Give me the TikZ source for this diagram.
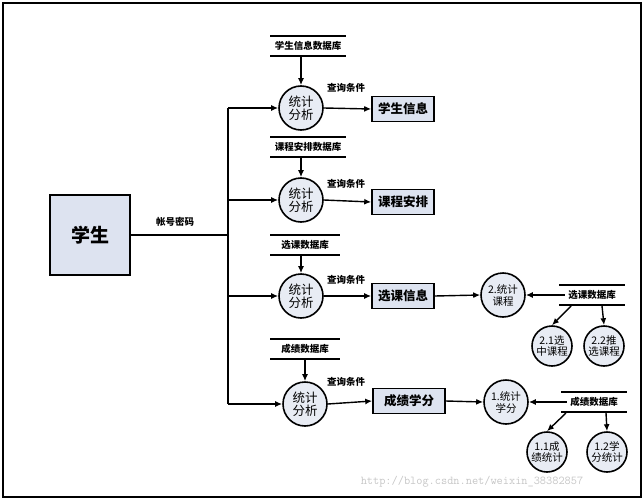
\documentclass[tikz,border=0pt]{standalone}
\usepackage{fontspec}
\setmainfont{Noto Sans CJK SC}
\usetikzlibrary{arrows.meta}
\definecolor{boxfill}{RGB}{221,227,240}
\definecolor{procfill}{RGB}{232,236,244}
\tikzset{
	proc/.style={circle, draw, line width=1.6pt, fill=procfill, minimum size=44pt, inner sep=0pt, align=center, font=\fontsize{12.5}{13.5}\selectfont},
	sub/.style={proc, minimum size=40pt, font=\fontsize{10.5}{11.5}\selectfont},
	outbox/.style={draw, line width=1.6pt, fill=boxfill, minimum width=62pt, minimum height=25pt, font=\bfseries\fontsize{12.5}{13}\selectfont},
	store/.style={font=\bfseries\fontsize{9.5}{10}\selectfont},
	lbl/.style={font=\bfseries\fontsize{9.5}{10}\selectfont},
	flow/.style={line width=1.4pt, -{Latex[length=7pt,width=6pt]}}
}
\newcommand{\datastore}[5] % name, x, y, half width, text
{
	\node[store] (#1) at (#2,#3) {#5};
	\draw[line width=1.6pt] (#2-#4,#3-10) -- (#2+#4,#3-10);
	\draw[line width=1.6pt] (#2-#4,#3+10) -- (#2+#4,#3+10);
}
\begin{document}
\begin{tikzpicture}[x=1pt, y=-1pt]
	\useasboundingbox (0,0) rectangle (644,500);
	\draw[line width=2.5pt] (3,3) rectangle (641,497);
	% student
	\node[draw, line width=1.6pt, fill=boxfill, minimum width=80pt, minimum height=80pt, font=\bfseries\fontsize{19}{20}\selectfont] (stu) at (90,235) {学生};
	\coordinate (trunk) at (228,235);
	\draw[line width=1.4pt] (stu.east) -- (trunk);
	\node[lbl] (acc) at (175,222) {帐号密码};
	\draw[line width=1.4pt] (228,108) -- (228,404);
	% four query rows
	\node[proc] (p1) at (301,108) {统计\\分析};
	\node[proc] (p2) at (301,200) {统计\\分析};
	\node[proc] (p3) at (301,296) {统计\\分析};
	\node[proc] (p4) at (305,404) {统计\\分析};
	\datastore{d1}{308}{46}{38}{学生信息数据库};
	\datastore{d2}{308}{147}{38}{课程安排数据库};
	\datastore{d3}{305}{245}{35}{选课数据库};
	\datastore{d4}{305}{349}{35}{成绩数据库};
	\draw[flow] (301,56) -- (p1.north);
	\draw[flow] (301,157) -- (p2.north);
	\draw[flow] (301,255) -- (p3.north);
	\draw[flow] (305,359) -- (p4.north);
	\draw[flow] (228,108) -- (p1.west);
	\draw[flow] (228,200) -- (p2.west);
	\draw[flow] (228,296) -- (p3.west);
	\draw[flow] (228,404) -- (p4.west);
	\node[outbox] (o1) at (403,109) {学生信息};
	\node[outbox] (o2) at (403,202) {课程安排};
	\node[outbox] (o3) at (403,296) {选课信息};
	\node[outbox, minimum width=72pt] (o4) at (409,401) {成绩学分};
	\draw[flow] (p1.east) -- (o1.west);
	\draw[flow] (p2.east) -- (o2.west);
	\draw[flow] (p3.east) -- (o3.west);
	\draw[flow] (p4.east) -- (o4.west);
	\node[lbl] (q1) at (346,88) {查询条件};
	\node[lbl] (q2) at (346,184) {查询条件};
	\node[lbl] (q3) at (346,280) {查询条件};
	\node[lbl] (q4) at (346,382) {查询条件};
	% course statistics
	\node[proc, font=\fontsize{10.5}{12}\selectfont] (c2) at (503,295) {2.统计\\课程};
	\datastore{cs}{592}{295}{33}{选课数据库};
	\node[sub] (c21) at (552,346) {2.1选\\中课程};
	\node[sub] (c22) at (604,346) {2.2推\\选课程};
	\draw[flow] (o3.east) -- (c2.west);
	\draw[flow] (cs.west) -- (c2.east);
	\draw[flow] (571,306) -- (c21.north);
	\draw[flow] (602,306) -- (c22.north);
	% credit statistics
	\node[proc, font=\fontsize{10.5}{12}\selectfont] (c1) at (506,402) {1.统计\\学分};
	\datastore{gs}{594}{402}{33}{成绩数据库};
	\node[sub] (c11) at (547,452) {1.1成\\绩统计};
	\node[sub] (c12) at (607,452) {1.2学\\分统计};
	\draw[flow] (o4.east) -- (c1.west);
	\draw[flow] (gs.west) -- (c1.east);
	\draw[flow] (566,413) -- (c11.north);
	\draw[flow] (606,413) -- (c12.north);
	\node[text=gray!45, font=\ttfamily\fontsize{12}{12}\selectfont] (wm) at (472,482) {http://blog.csdn.net/weixin\_38382857};
\end{tikzpicture}
\end{document}
